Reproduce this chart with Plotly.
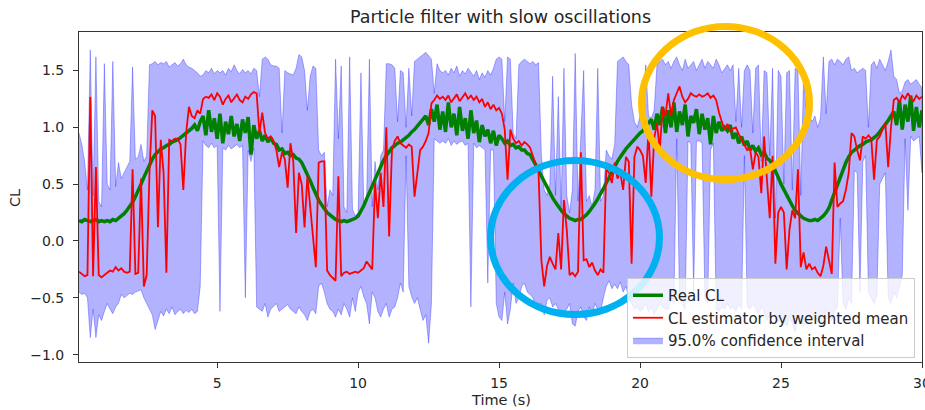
import plotly.graph_objects as go

# sampling grid (s)
t = [round(0.1 * i, 1) for i in range(1, 301)]

# Real CL (green), 10 samples per second
real_cl = [
    0.18, 0.17, 0.19, 0.18, 0.17, 0.18, 0.19, 0.17, 0.18, 0.17,
    0.18, 0.17, 0.19, 0.18, 0.20, 0.22, 0.24, 0.27, 0.30, 0.34,
    0.39, 0.44, 0.50, 0.56, 0.62, 0.67, 0.72, 0.76, 0.79, 0.81,
    0.82, 0.84, 0.85, 0.87, 0.88, 0.89, 0.91, 0.93, 0.95, 0.97,
    0.99, 1.02, 0.97, 1.05, 1.10, 0.93, 1.15, 0.96, 1.08, 0.90,
    1.12, 0.86, 1.05, 0.94, 1.10, 0.92, 1.03, 0.88, 1.07, 0.95,
    1.09, 0.76, 1.02, 0.90, 0.97, 0.88, 0.93, 0.87, 0.91, 0.86,
    0.85, 0.80, 0.81, 0.77, 0.78, 0.75, 0.76, 0.73, 0.72, 0.69,
    0.64, 0.59, 0.53, 0.47, 0.41, 0.36, 0.32, 0.28, 0.25, 0.23,
    0.21, 0.19, 0.18, 0.17, 0.18, 0.17, 0.18, 0.19, 0.20, 0.22,
    0.26, 0.31, 0.37, 0.43, 0.49, 0.55, 0.61, 0.66, 0.71, 0.75,
    0.79, 0.82, 0.84, 0.86, 0.87, 0.89, 0.91, 0.93, 0.96, 0.98,
    1.01, 1.04, 1.07, 1.10, 1.02, 1.16, 1.05, 1.20, 0.98, 1.14,
    0.96, 1.22, 1.00, 1.12, 0.93, 1.18, 0.97, 1.08, 0.90, 1.15,
    0.95, 1.06, 0.87, 1.02, 0.92, 0.98, 0.86, 0.97, 0.84, 0.93,
    0.90, 0.86, 0.88, 0.84, 0.85, 0.82, 0.83, 0.80, 0.80, 0.77,
    0.76, 0.72, 0.67, 0.62, 0.57, 0.52, 0.47, 0.42, 0.38, 0.34,
    0.30, 0.27, 0.24, 0.22, 0.20, 0.19, 0.18, 0.19, 0.19, 0.21,
    0.23, 0.26, 0.29, 0.33, 0.37, 0.41, 0.46, 0.51, 0.56, 0.61,
    0.66, 0.70, 0.74, 0.78, 0.81, 0.84, 0.87, 0.90, 0.92, 0.95,
    0.97, 1.00, 1.03, 1.07, 0.98, 1.12, 1.02, 1.18, 0.95, 1.15,
    1.00, 1.22, 0.96, 1.14, 1.02, 1.20, 0.92, 1.10, 1.04, 1.16,
    0.94, 1.12, 0.98, 1.08, 0.85, 1.10, 0.95, 1.05, 0.97, 1.00,
    0.97, 1.02, 0.90, 0.95, 0.86, 0.92, 0.84, 0.88, 0.80, 0.84,
    0.79, 0.82, 0.76, 0.78, 0.73, 0.71, 0.67, 0.62, 0.56, 0.50,
    0.45, 0.40, 0.35, 0.31, 0.27, 0.24, 0.22, 0.20, 0.19, 0.18,
    0.18, 0.19, 0.18, 0.20, 0.22, 0.25, 0.29, 0.36, 0.43, 0.50,
    0.57, 0.63, 0.69, 0.74, 0.78, 0.80, 0.82, 0.84, 0.85, 0.87,
    0.88, 0.89, 0.91, 0.93, 0.96, 0.99, 1.03, 1.06, 1.10, 1.14,
    1.02, 1.24, 0.98, 1.20, 1.05, 1.28, 0.97, 1.18, 1.00, 1.15,
]

# CL estimator by weighted mean (red)
cl_est = [
    -0.27, -0.29, -0.31, -0.30, 1.27, -0.31, 0.65, -0.30, -0.32, -0.30,
    -0.28, -0.26, -0.27, -0.23, -0.26, -0.24, -0.27, -0.28, -0.27, 0.63,
    -0.29, -0.28, 0.55, -0.40, -0.30, 0.60, 1.15, 1.10, 0.12, 0.89,
    0.60, -0.28, 0.89, 0.88, 0.90, 0.90, 0.85, 0.45, 0.95, 1.18,
    1.10, 1.08, 1.15, 1.12, 1.25, 1.27, 1.26, 1.29, 1.24, 1.30,
    1.27, 1.20, 1.25, 1.28, 1.22, 1.26, 1.29, 1.24, 1.22, 1.27,
    1.25, 1.29, 1.31, 1.30, 0.95, 1.13, 0.95, 0.90, 0.92, 0.88,
    0.80, 0.65, 0.78, 0.72, 0.47, 0.86, 0.70, 0.07, 0.60, 0.50,
    0.12, 0.57, 0.30, 0.04, -0.23, 0.69, 0.70, 0.70, -0.26, -0.30,
    -0.33, -0.35, 0.57, -0.31, -0.28, -0.27, -0.29, -0.28, -0.27, -0.28,
    -0.26, -0.24, -0.18, -0.22, -0.25, 0.51, 0.20, 0.60, 0.30, 1.00,
    0.04, 0.80, 0.88, 0.92, 0.86, 0.84, 0.82, 0.85, 0.83, 0.39,
    0.62, 0.80, 0.83, 0.88, 0.95, 1.21, 1.24, 1.28, 1.25, 1.27,
    1.24, 1.28, 1.22, 1.26, 1.29, 1.23, 1.26, 1.30, 1.25, 1.28,
    1.24, 1.27, 1.22, 1.25, 1.18, 1.22, 1.16, 1.20, 1.15, 1.17,
    1.12, 0.98, 0.54, 0.98, 0.90, 0.86, 0.88, 0.84, 0.87, 0.85,
    0.82, 0.74, 0.68, 0.60, -0.17, -0.40, -0.22, -0.14, -0.20, -0.25,
    0.07, -0.25, 0.36, 0.10, -0.30, -0.28, -0.31, -0.27, 0.78, -0.17,
    -0.16, -0.23, -0.19, -0.26, -0.30, -0.25, -0.28, 0.63, 0.60, 0.51,
    0.69, 0.55, 0.60, 0.45, 0.74, 0.70, -0.20, 0.74, 0.83, 0.80,
    0.75, 0.51, 0.98, 0.39, 0.90, 1.04, 0.80, 1.18, 1.10, 1.30,
    1.10, 1.24, 1.30, 1.36, 1.27, 1.22, 1.25, 1.30, 1.28, 1.27,
    1.29, 1.27, 1.28, 1.30, 1.26, 1.28, 1.24, 1.13, 1.05, 0.98,
    1.03, 0.96, 0.99, 1.00, 0.94, 0.89, 0.85, 0.80, 0.82, 0.63,
    0.78, 0.74, 0.42, 0.92, 0.54, 0.20, 0.75, -0.20, 0.25, 0.30,
    0.25, -0.25, 0.10, 0.27, 0.20, 0.63, -0.23, -0.10, -0.25, -0.20,
    -0.25, -0.23, -0.28, -0.31, -0.22, -0.05, -0.17, -0.29, 0.69, 0.30,
    0.33, 0.35, 0.45, 0.60, 0.95, 0.92, 0.80, 0.71, 0.92, 0.90,
    0.93, 0.90, 0.54, 0.89, 0.92, 0.98, 1.04, 0.65, 1.00, 1.24,
    1.26, 1.22, 1.28, 1.25, 1.30, 1.26, 1.23, 1.28, 1.25, 1.27,
]

# 95 % confidence interval, upper bound
ci_high = [
    0.95, 0.85, 0.70, 0.45, 1.68, 0.40, 1.62, 0.35, 0.30, 1.56,
    0.50, 0.45, 1.58, 0.48, 0.69, 0.55, 0.60, 0.65, 0.70, 1.53,
    0.72, 0.74, 0.85, 0.70, 0.75, 1.55, 1.56, 1.58, 1.55, 1.57,
    1.56, 1.58, 1.53, 1.55, 1.57, 1.54, 1.56, 1.60, 1.55, 1.53,
    1.52, 1.50, 1.48, 1.45, 1.46, 1.50, 1.48, 1.52, 1.47, 1.50,
    1.48, 1.50, 1.46, 1.52, 1.49, 1.55, 1.50, 1.47, 1.51, 1.48,
    1.50, 1.47, 1.52, 1.50, 1.27, 1.60, 1.62, 1.60, 1.55, 1.54,
    1.54, 1.52, 0.95, 1.50, 1.48, 1.47, 1.46, 1.52, 1.64, 1.62,
    1.50, 1.15, 1.45, 1.54, 1.52, 0.80, 0.75, 0.78, 0.30, 0.45,
    0.40, 1.60, 0.90, 1.54, 0.30, 0.25, 1.62, 0.28, 0.22, 0.25,
    1.48, 0.32, 0.35, 1.60, 0.30, 0.70, 0.45, 0.75, 0.80, 1.56,
    1.56, 1.55, 1.52, 1.05, 1.50, 1.48, 1.00, 1.52, 1.10, 1.58,
    1.60, 1.62, 1.64, 1.66, 1.63, 1.60, 1.30, 1.56, 1.50, 1.48,
    1.50, 1.46, 1.52, 1.48, 1.54, 1.45, 1.50, 1.47, 1.52, 1.48,
    1.45, 1.50, 1.42, 1.48, 1.44, 1.50, 1.46, 1.52, 1.60, 1.62,
    1.60, 1.05, 1.62, 1.60, 0.95, 0.90, 1.55, 1.58, 1.60, 1.58,
    1.56, 1.58, 1.55, 1.57, 0.75, 0.45, 0.40, 0.50, 1.45, 0.40,
    1.27, 0.30, 1.52, 0.40, 0.25, 0.45, 1.65, 0.35, 0.90, 1.50,
    0.35, 0.40, 0.30, 0.45, 1.52, 0.35, 0.40, 0.80, 0.75, 0.72,
    0.85, 1.58, 1.60, 1.62, 1.58, 1.55, 1.20, 1.05, 1.00, 1.10,
    1.05, 1.55, 1.10, 1.08, 1.15, 1.55, 1.58, 1.60, 1.55, 1.58,
    1.52, 1.58, 1.62, 1.55, 1.50, 1.60, 1.52, 1.55, 1.58, 1.50,
    1.55, 1.60, 1.52, 1.58, 1.55, 1.52, 1.60, 1.55, 1.48, 1.52,
    1.55, 1.50, 1.55, 1.05, 1.52, 1.00, 1.50, 1.55, 1.50, 0.95,
    1.52, 1.55, 0.70, 1.50, 1.48, 0.75, 1.52, 0.20, 1.50, 1.45,
    0.50, 1.48, 1.50, 0.45, 1.52, 1.50, 0.40, 1.45, 1.15, 1.10,
    1.05, 1.10, 1.00, 1.08, 1.62, 1.12, 1.58, 1.60, 1.55, 1.60,
    1.58, 1.55, 1.60, 1.62, 1.50, 1.52, 1.48, 1.50, 1.52, 1.50,
    1.00, 1.55, 1.58, 1.52, 1.60, 1.55, 1.50, 1.58, 1.68, 1.45,
    1.42, 1.30, 1.32, 1.40, 1.42, 1.38, 1.40, 1.42, 1.38, 1.35,
]

# 95 % confidence interval, lower bound
ci_low = [
    -0.45, -0.47, -0.46, -0.50, -0.85, -0.60, -0.85, -0.65, -0.70, -0.62,
    -0.55, -0.60, -0.64, -0.58, -0.55, -0.47, -0.50, -0.48, -0.46, -0.47,
    -0.45, -0.44, -0.43, -0.50, -0.55, -0.60, -0.65, -0.78, -0.70, -0.62,
    -0.66, -0.60, -0.64, -0.58, -0.65, -0.62, -0.60, -0.64, -0.61, -0.63,
    -0.60, -0.64, -0.62, -0.40, 0.88, 0.84, 0.82, 0.86, 0.82, 0.84,
    -0.62, 0.82, 0.80, 0.84, 0.81, 0.83, 0.85, 0.82, 0.84, -0.50,
    0.80, 0.70, 0.82, -0.58, -0.60, -0.62, -0.55, -0.67, -0.60, -0.58,
    -0.55, -0.62, -0.60, -0.58, -0.56, -0.60, -0.62, -0.64, -0.58, -0.62,
    -0.65, -0.70, -0.62, -0.60, -0.64, -0.40, -0.37, -0.45, -0.55, -0.60,
    -0.62, -0.67, -0.60, -0.65, -0.55, -0.60, -0.67, -0.50, -0.62, -0.45,
    -0.40, -0.49, -0.55, -0.73, -0.45, -0.50, -0.62, -0.67, -0.60, -0.55,
    -0.67, -0.60, -0.58, -0.50, -0.37, -0.45, 0.75, -0.40, -0.49, -0.55,
    -0.50, -0.60, -0.70, -0.65, -0.90, -0.55, 0.90, 0.88, 0.86, 0.88,
    0.86, 0.90, 0.84, 0.88, 0.85, 0.87, 0.88, 0.84, 0.86, -0.58,
    0.86, 0.82, 0.84, 0.82, 0.80, -0.37, 0.80, 0.80, -0.55, -0.67,
    -0.70, -0.45, -0.73, -0.60, -0.37, -0.55, -0.50, -0.40, -0.37, -0.45,
    -0.47, -0.50, -0.58, -0.55, -0.55, -0.65, -0.52, -0.50, -0.58, -0.55,
    -0.60, -0.65, -0.62, -0.60, -0.55, -0.73, -0.75, -0.62, -0.58, -0.67,
    -0.70, -0.58, -0.65, -0.55, -0.60, -0.62, -0.50, -0.40, -0.35, -0.42,
    -0.38, -0.42, -0.36, -0.45, -0.40, -0.50, -0.55, -0.60, -0.58, -0.62,
    -0.60, -0.55, -0.62, -0.58, -0.65, -0.60, -0.55, -0.58, -0.60, -0.60,
    -0.50, -0.55, 0.90, -0.50, -0.55, -0.60, 0.88, 0.86, -0.45, 0.88,
    0.88, 0.86, -0.50, -0.55, 0.80, 0.86, -0.60, -0.62, -0.58, -0.60,
    -0.55, -0.60, -0.58, -0.62, -0.55, -0.60, 0.75, -0.58, -0.60, -0.55,
    -0.60, -0.65, -0.58, -0.62, -0.70, -0.65, -0.60, -0.68, -0.72, -0.65,
    -0.70, -0.75, -0.68, -0.72, -0.80, -0.65, -0.70, -0.75, -0.72, -0.68,
    -0.70, -0.65, -0.72, -0.68, -0.75, -0.60, -0.65, -0.70, -0.62, -0.58,
    0.20, -0.55, -0.60, -0.50, -0.55, 0.62, 0.60, -0.45, 0.70, 0.75,
    -0.45, -0.50, -0.55, -0.48, 0.50, 0.55, 0.60, -0.50, -0.55, -0.45,
    -0.50, -0.40, -0.30, 0.90, 0.27, 0.92, 0.88, 0.90, 0.92, 0.60,
]

x_ticks = [5, 10, 15, 20, 25, 30]
y_ticks = [-1.0, -0.5, 0.0, 0.5, 1.0, 1.5]

FONT = "DejaVu Sans"
AX = "#333333"
TXT = "#262626"

fig = go.Figure()

# confidence band as one closed polygon
fig.add_trace(go.Scatter(
    x=t + t[::-1], y=ci_high + ci_low[::-1],
    mode="lines", fill="toself",
    fillcolor="rgba(0,0,255,0.3)",
    line=dict(color="rgba(0,0,255,0.3)", width=1),
    name="95.0% confidence interval", legendrank=3,
    hoverinfo="skip",
))
fig.add_trace(go.Scatter(
    x=t, y=real_cl, mode="lines",
    line=dict(color="#008000", width=3.5),
    name="Real CL", legendrank=1,
))
fig.add_trace(go.Scatter(
    x=t, y=cl_est, mode="lines",
    line=dict(color="#ff0000", width=1.8),
    name="CL estimator by weighted mean", legendrank=2,
))

axis_common = dict(
    showline=True, linecolor=AX, linewidth=1, mirror=True,
    ticks="outside", ticklen=5, tickwidth=1, tickcolor=AX,
    showgrid=False, zeroline=False, automargin=False,
    tickfont=dict(family=FONT, size=14, color=TXT),
)

fig.update_layout(
    width=925, height=410,
    margin=dict(l=79, r=3, t=32, b=48, autoexpand=False),
    paper_bgcolor="white", plot_bgcolor="white",
    font=dict(family=FONT, size=14, color=TXT),
    title=dict(
        text="Particle filter with slow oscillations",
        x=(79 + 843 / 2) / 925, xref="container", xanchor="center",
        y=1 - 17 / 410, yref="container", yanchor="middle",
        font=dict(family=FONT, size=17.5, color=TXT),
    ),
    xaxis=dict(range=[0.1, 30], tickvals=x_ticks,
               ticktext=[str(v) for v in x_ticks],
               ticklabelstandoff=3, ticklabeloverflow="allow", **axis_common),
    yaxis=dict(range=[-1.065, 1.839], tickvals=y_ticks,
               tickformat=".1f", ticklabelstandoff=6, **axis_common),
    legend=dict(
        x=(915 - 79) / 843, y=(362 - 358) / 330, xanchor="right", yanchor="bottom",
        bgcolor="rgba(255,255,255,0.8)", bordercolor="#cccccc", borderwidth=1,
        font=dict(family=FONT, size=15, color=TXT),
    ),
    showlegend=True,
    annotations=[
        dict(text="Time (s)", xref="paper", yref="paper", x=0.5, y=(362 - 400) / 330,
             xanchor="center", yanchor="middle", showarrow=False,
             font=dict(family=FONT, size=14.5, color=TXT)),
        dict(text="CL", xref="paper", yref="paper", x=(15 - 79) / 843, y=(362 - 198) / 330,
             xanchor="center", yanchor="middle", showarrow=False, textangle=-90,
             font=dict(family=FONT, size=14.5, color=TXT)),
    ],
    shapes=[
        dict(type="circle", xref="paper", yref="paper",
             x0=(641.5 - 79) / 843, x1=(809.5 - 79) / 843,
             y0=(362 - 179.5) / 330, y1=(362 - 26.5) / 330,
             line=dict(color="#FFC000", width=7), layer="above"),
        dict(type="circle", xref="paper", yref="paper",
             x0=(490.5 - 79) / 843, x1=(659.5 - 79) / 843,
             y0=(362 - 314.5) / 330, y1=(362 - 160.5) / 330,
             line=dict(color="#00B0F0", width=7), layer="above"),
    ],
)

# remove the browser's default 8px page margin so the figure sits at (0, 0)
fig.write_html(
    "out.html",
    config={"displayModeBar": False},
    post_script="document.body.style.margin='0';document.body.style.overflow='hidden';",
)
